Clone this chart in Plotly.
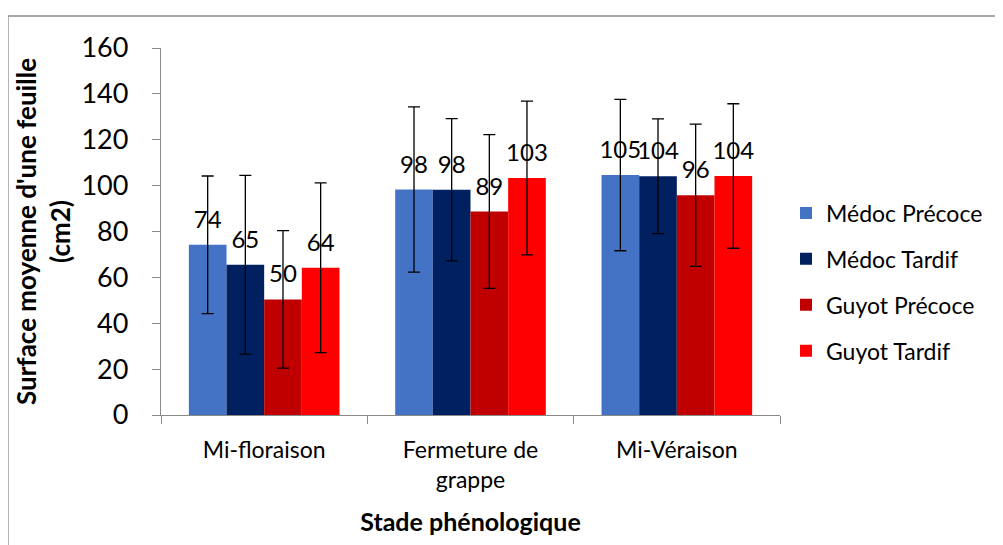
import plotly.graph_objects as go

categories = ["Mi-floraison", "Fermeture de<br>grappe", "Mi-Véraison"]
series_names = ["Médoc Précoce", "Médoc Tardif", "Guyot Précoce", "Guyot Tardif"]
medoc_precoce = [74.2, 98.3, 104.6]
medoc_tardif = [65.5, 98.2, 104.1]
guyot_precoce = [50.4, 88.7, 95.8]
guyot_tardif = [64.2, 103.3, 104.2]
err_medoc_precoce = [30, 36, 33]
err_medoc_tardif = [39, 31, 25]
err_guyot_precoce = [30, 33.5, 31]
err_guyot_tardif = [37, 33.5, 31.5]
labels_medoc_precoce = ["74", "98", "105"]
labels_medoc_tardif = ["65", "98", "104"]
labels_guyot_precoce = ["50", "89", "96"]
labels_guyot_tardif = ["64", "103", "104"]
y_ticks = [0, 20, 40, 60, 80, 100, 120, 140, 160]

colors = ["#4472C4", "#002060", "#C00000", "#FF0000"]
values = [medoc_precoce, medoc_tardif, guyot_precoce, guyot_tardif]
errors = [err_medoc_precoce, err_medoc_tardif, err_guyot_precoce, err_guyot_tardif]
labels = [labels_medoc_precoce, labels_medoc_tardif, labels_guyot_precoce, labels_guyot_tardif]

FONT = "Lato"
fig = go.Figure()
for i, name in enumerate(series_names):
    fig.add_trace(go.Bar(
        x=categories, y=values[i], name=name,
        marker=dict(color=colors[i], line=dict(width=0)),
        error_y=dict(type="data", array=errors[i], visible=True,
                     color="black", thickness=1.3, width=6),
        legendgroup=name,
    ))
for i, name in enumerate(series_names):
    fig.add_trace(go.Scatter(
        x=categories, y=values[i], mode="markers+text",
        text=labels[i], textposition="top center",
        textfont=dict(family=FONT, size=24, color="black"),
        marker=dict(size=16, opacity=0),
        showlegend=False, hoverinfo="skip", cliponaxis=False,
    ))

# page body has an 8px margin, so figure coords = reference coords - 8
OFF = 8
L, R, T, B = 161 - OFF, 1003 - (780 - OFF), 48 - OFF, 545 - (415 - OFF)
pw, ph = 1003 - L - R, 545 - T - B

def px_to_paper_x(px):
    return (px - OFF - L) / pw

def px_to_paper_y(py):
    return (545 - B - (py - OFF)) / ph

fig.update_layout(
    width=1003, height=545,
    margin=dict(l=L, r=R, t=T, b=B, autoexpand=False),
    paper_bgcolor="white", plot_bgcolor="white",
    barmode="group", bargap=0.27, bargroupgap=0,
    scattermode="group", scattergap=0.27,
    font=dict(family=FONT, color="black"),
    showlegend=True,
    legend=dict(
        x=px_to_paper_x(786), y=px_to_paper_y(282), xanchor="left", yanchor="middle",
        font=dict(family=FONT, size=23, color="black"),
        traceorder="grouped", tracegroupgap=13,
        itemwidth=30, bgcolor="rgba(0,0,0,0)",
    ),
    xaxis=dict(
        showline=True, linecolor="#898989", linewidth=1.3,
        ticks="outside", tickson="boundaries", ticklen=8, tickcolor="#898989",
        tickfont=dict(family=FONT, size=23, color="black"),
        ticklabelstandoff=14,
        showgrid=False,
        title=dict(text="<b>Stade phénologique</b>",
                   font=dict(family=FONT, size=25, color="black"), standoff=21),
    ),
    yaxis=dict(
        range=[0, 160], tickvals=y_ticks,
        showline=True, linecolor="#898989", linewidth=1.3,
        ticks="outside", ticklen=8, tickcolor="#898989",
        tickfont=dict(family=FONT, size=27, color="black"),
        ticklabelstandoff=18,
        showgrid=False, zeroline=False,
        title=dict(text="<b>Surface moyenne d'une feuille<br>(cm2)</b>",
                   font=dict(family=FONT, size=26, color="black"), standoff=3),
    ),
    shapes=[
        dict(type="line", xref="paper", yref="paper",
             x0=px_to_paper_x(8), x1=px_to_paper_x(1020),
             y0=px_to_paper_y(16), y1=px_to_paper_y(16),
             line=dict(color="#8c8c8c", width=1.3)),
        dict(type="line", xref="paper", yref="paper",
             x0=px_to_paper_x(8), x1=px_to_paper_x(8),
             y0=px_to_paper_y(16), y1=px_to_paper_y(560),
             line=dict(color="#8c8c8c", width=1.3)),
    ],
)

fig.write_html("out.html")
